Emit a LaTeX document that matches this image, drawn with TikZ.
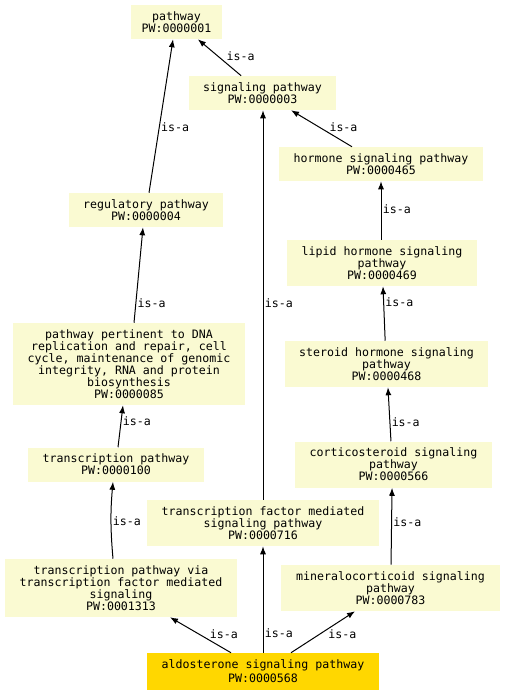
\documentclass[tikz,border=0pt]{standalone}
\usepackage{fontspec}
\setmonofont{DejaVu Sans Mono}
\usepackage{tikz}
\usetikzlibrary{arrows.meta}

\definecolor{termfill}{HTML}{FAFAD2}
\definecolor{mainfill}{HTML}{FFD700}

\tikzset{
  term/.style={fill=termfill, align=center, inner sep=0pt,
    font=\ttfamily\fontsize{8.7}{9}\selectfont},
  mainterm/.style={term, fill=mainfill,
    font=\ttfamily\fontsize{8.7}{10.5}\selectfont},
  isa/.style={draw, line width=0.75pt, -{Latex[length=6pt,width=4.5pt]}},
  isalabel/.style={anchor=west, inner sep=1pt,
    font=\ttfamily\fontsize{8.7}{9}\selectfont}
}

\begin{document}
\begin{tikzpicture}[x=0.75pt,y=-0.75pt]
\useasboundingbox (0,0) rectangle (505,696);

% terms
\node[term, minimum width=68.25pt, minimum height=25.5pt] (pw1) at (176.5,22) {pathway\\PW:0000001};
\node[term, minimum width=110.25pt, minimum height=25.5pt] (pw3) at (262.5,93) {signaling pathway\\PW:0000003};
\node[term, minimum width=153pt, minimum height=25.5pt] (pw465) at (381,164) {hormone signaling pathway\\PW:0000465};
\node[term, minimum width=115.5pt, minimum height=25.5pt] (pw4) at (146,210) {regulatory pathway\\PW:0000004};
\node[term, minimum width=142.5pt, minimum height=34.5pt] (pw469) at (382,263) {lipid hormone signaling\\pathway\\PW:0000469};
\node[term, minimum width=174pt, minimum height=61.5pt] (pw85) at (129,364) {pathway pertinent to DNA\\replication and repair, cell\\cycle, maintenance of genomic\\integrity, RNA and protein\\biosynthesis\\PW:0000085};
\node[term, minimum width=152.25pt, minimum height=34.5pt] (pw468) at (386.5,364) {steroid hormone signaling\\pathway\\PW:0000468};
\node[term, minimum width=132pt, minimum height=25.5pt] (pw100) at (116,464.5) {transcription pathway\\PW:0000100};
\node[term, minimum width=147.75pt, minimum height=34.5pt] (pw566) at (393.5,464.5) {corticosteroid signaling\\pathway\\PW:0000566};
\node[term, minimum width=174pt, minimum height=34.5pt] (pw716) at (263,523) {transcription factor mediated\\signaling pathway\\PW:0000716};
\node[term, minimum width=174pt, minimum height=43.5pt] (pw1313) at (121,588) {transcription pathway via\\transcription factor mediated\\signaling\\PW:0001313};
\node[term, minimum width=164.25pt, minimum height=34.5pt] (pw783) at (390.5,588) {mineralocorticoid signaling\\pathway\\PW:0000783};
\node[mainterm, minimum width=174pt, minimum height=27.75pt] (pw568) at (263,671.5) {aldosterone signaling pathway\\PW:0000568};

% is-a links, child to parent
\path[isa] ([xshift=-16pt]pw3.north) -- node[isalabel, pos=0.53, xshift=5pt] {is-a} ([xshift=16pt]pw1.south);
\path[isa] ([xshift=2.25pt]pw4.north) -- node[isalabel, pos=0.43] {is-a} ([xshift=-2.6pt]pw1.south);
\path[isa] ([xshift=-21.75pt]pw465.north) -- node[isalabel, pos=0.53, xshift=6pt] {is-a} ([xshift=21.4pt]pw3.south);
\path[isa] (pw469.north -| pw465.south) -- node[isalabel, pos=0.53] {is-a} (pw465.south);
\path[isa] ([xshift=3.75pt]pw85.north) -- node[isalabel, pos=0.2] {is-a} ([xshift=-2.25pt]pw4.south);
\path[isa] (pw716.north) -- node[isalabel, pos=0.505] {is-a} (pw716.north |- pw3.south);
\path[isa] ([xshift=-1pt]pw468.north) -- node[isalabel, pos=0.7] {is-a} ([xshift=0.75pt]pw469.south);
\path[isa] ([xshift=1.5pt]pw100.north) -- node[isalabel, pos=0.61] {is-a} ([xshift=-4.5pt]pw85.south);
\path[isa] ([xshift=-1.9pt]pw566.north) -- node[isalabel, pos=0.35] {is-a} ([xshift=1.1pt]pw468.south);
\path[isa] ([xshift=-6pt]pw1313.north) to[bend left=5] node[isalabel, pos=0.48] {is-a} ([xshift=-2.25pt]pw100.south);
\path[isa] ([xshift=0.4pt]pw783.north) -- node[isalabel, pos=0.55] {is-a} ([xshift=-1.1pt]pw566.south);
\path[isa] ([xshift=-24pt]pw568.north) -- node[isalabel, pos=0.53, xshift=7pt] {is-a} ([xshift=36.75pt]pw1313.south);
\path[isa] (pw568.north) -- node[isalabel, pos=0.18] {is-a} (pw716.south);
\path[isa] ([xshift=21pt]pw568.north) -- node[isalabel, pos=0.45, xshift=5pt] {is-a} ([xshift=-26.6pt]pw783.south);
\end{tikzpicture}
\end{document}
